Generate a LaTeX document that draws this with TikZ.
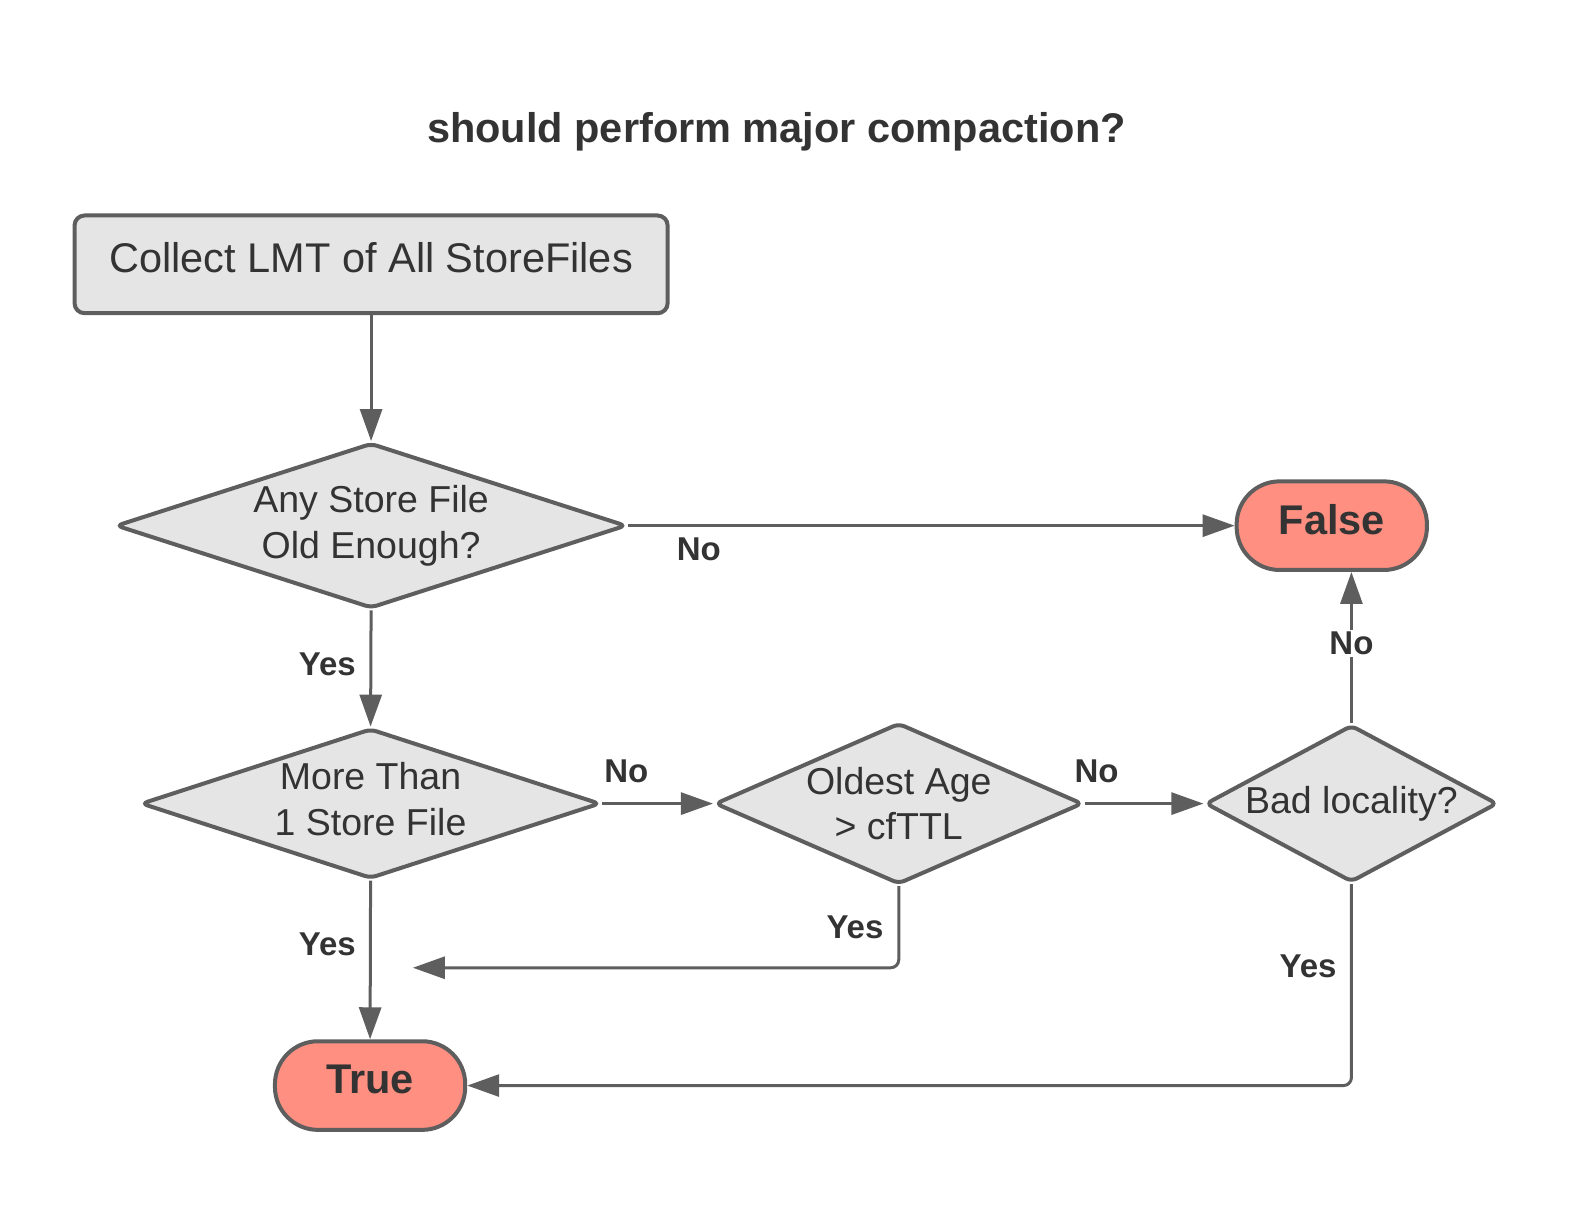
\documentclass[tikz,border=0pt]{standalone}
\usepackage{fontspec}
\setmainfont{Liberation Sans}
\usetikzlibrary{shapes.geometric,arrows.meta}
\definecolor{edgegray}{HTML}{5E5E5E}
\definecolor{txtgray}{HTML}{333333}
\definecolor{boxfill}{HTML}{E5E5E5}
\definecolor{termfill}{HTML}{FF8F80}
\newcommand{\liftup}[2]{\raisebox{#1}{\begin{tabular}{@{}c@{}}#2\end{tabular}}}
\tikzset{
  procbox/.style={draw=edgegray, fill=boxfill, line width=4pt, rounded corners=10pt,
    text=txtgray, font=\fontsize{41.5}{48}\selectfont, inner sep=0pt},
  decision/.style={diamond, draw=edgegray, fill=boxfill, line width=4pt, rounded corners=6pt,
    text=txtgray, font=\fontsize{37.5}{45.5}\selectfont, align=center, inner sep=-12pt},
  terminal/.style={draw=edgegray, fill=termfill, line width=4pt, rounded corners=43pt,
    text=txtgray, font=\fontsize{41.5}{48}\selectfont\bfseries, inner sep=0pt,
    minimum width=190.3pt, minimum height=88.6pt},
  conn/.style={draw=edgegray, line width=3pt, -{Triangle[length=32pt,width=22pt]}},
  lbl/.style={text=txtgray, font=\fontsize{33}{38}\selectfont\bfseries, inner sep=2pt},
  titletext/.style={text=txtgray, font=\fontsize{41.5}{48}\selectfont\bfseries},
}
\begin{document}
\begin{tikzpicture}[x=1.00702pt,y=-1.00702pt]
\useasboundingbox (0,0) rectangle (1568,1197.6);
\node[titletext] (title) at (771,131) {should perform major compaction?};
\node[procbox, minimum width=593.1pt, minimum height=97.7pt] (collect) at (368.5,262.5) {\raisebox{13pt}{Collect LMT of All StoreFiles}};
\node[decision, aspect=3.09, minimum width=510.6pt, minimum height=165.2pt] (d1) at (368.5,522) {Any Store File\\Old Enough?};
\node[decision, aspect=3.06, minimum width=459.2pt, minimum height=150pt] (d2) at (368,798) {\liftup{5pt}{More Than\\1 Store File}};
\node[decision, aspect=2.28, minimum width=367.6pt, minimum height=161.1pt] (d3) at (892.5,798) {Oldest Age\\> cfTTL};
\node[decision, aspect=1.86, minimum width=292pt, minimum height=157.1pt] (d4) at (1342,798) {Bad locality?};
\node[terminal] (false) at (1322.5,522) {\raisebox{13pt}{False}};
\node[terminal] (true) at (367.5,1078) {\raisebox{13pt}{True}};
\coordinate (yesend) at (410,961);

\draw[conn] (collect.south) -- (d1.north);
\draw[conn] (d1.east) -- (false.west);
\draw[conn] (d1.south) -- (d2.north);
\draw[conn] (d2.east) -- (d3.west);
\draw[conn] (d3.east) -- (d4.west);
\draw[conn] (d4.north) -- (d4.north |- false.south);
\draw[conn] (d2.south) -- (true.north);
\draw[conn, rounded corners=8pt] (d3.south) |- (yesend);
\draw[conn, rounded corners=8pt] (d4.south) |- (true.east);

\node[lbl] (l1) at (694,545) {No};
\node[lbl] (l2) at (325,660) {Yes};
\node[lbl] (l3) at (622,766) {No};
\node[lbl] (l4) at (1089,766) {No};
\node[lbl, fill=white] (l5) at (1342,639) {No};
\node[lbl] (l6) at (325,938) {Yes};
\node[lbl] (l7) at (849,921) {Yes};
\node[lbl] (l8) at (1299,960) {Yes};
\end{tikzpicture}
\end{document}
